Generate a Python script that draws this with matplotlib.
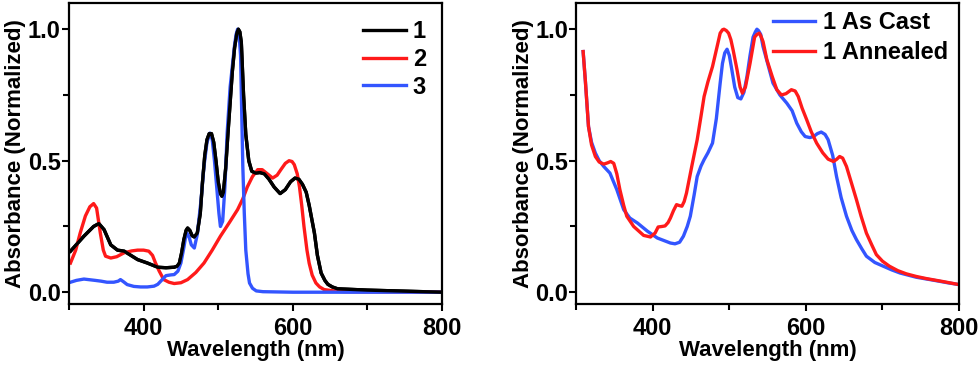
import numpy as np
import matplotlib.pyplot as plt
from matplotlib.ticker import MultipleLocator

plt.rcParams['font.family'] = ['Liberation Sans', 'DejaVu Sans']
plt.rcParams['font.weight'] = 'bold'

# left panel: compounds 1, 2, 3 (wavelength nm, normalized absorbance)
wl_1 = [302, 320, 333, 340, 347, 356, 365, 374, 392, 405, 419, 430, 441, 445,
        448, 451, 454, 457, 459, 462, 465, 468, 472, 476, 479, 482, 485, 488,
        491, 494, 497, 500, 503, 505, 507, 510, 513, 516, 519, 522, 525, 527,
        529, 531, 534, 537, 541, 545, 550, 556, 562, 568, 575, 583, 590, 597,
        603, 608, 613, 618, 622, 626, 629, 633, 638, 643, 647, 653, 660, 700,
        750, 800]
abs_1 = [0.156, 0.213, 0.25, 0.261, 0.238, 0.18, 0.16, 0.156, 0.124, 0.111,
         0.095, 0.093, 0.095, 0.099, 0.111, 0.15, 0.20, 0.235, 0.244, 0.235,
         0.215, 0.21, 0.225, 0.30, 0.42, 0.52, 0.58, 0.603, 0.603, 0.57, 0.50,
         0.42, 0.375, 0.365, 0.38, 0.47, 0.60, 0.72, 0.84, 0.93, 0.985, 1.0,
         0.99, 0.95, 0.75, 0.60, 0.50, 0.46, 0.453, 0.455, 0.45, 0.43, 0.40,
         0.375, 0.39, 0.42, 0.434, 0.43, 0.41, 0.38, 0.33, 0.27, 0.225, 0.14,
         0.073, 0.045, 0.03, 0.02, 0.013, 0.008, 0.004, 0.0]

wl_2 = [302, 309, 315, 322, 328, 333, 337, 342, 346, 349, 356, 364, 374, 384,
        392, 400, 407, 412, 416, 421, 427, 434, 441, 450, 459, 470, 481, 492,
        503, 515, 526, 533, 539, 546, 553, 559, 566, 573, 579, 584, 590, 595,
        599, 602, 606, 609, 612, 615, 619, 622, 626, 631, 636, 642, 655, 669,
        720, 800]
abs_2 = [0.111, 0.16, 0.225, 0.29, 0.325, 0.337, 0.32, 0.225, 0.16, 0.137,
         0.13, 0.135, 0.15, 0.157, 0.16, 0.16, 0.156, 0.14, 0.111, 0.08, 0.048,
         0.038, 0.033, 0.036, 0.048, 0.075, 0.111, 0.16, 0.213, 0.265, 0.314,
         0.355, 0.40, 0.44, 0.466, 0.466, 0.45, 0.434, 0.445, 0.466, 0.49,
         0.50, 0.497, 0.485, 0.45, 0.40, 0.33, 0.25, 0.16, 0.11, 0.065, 0.035,
         0.02, 0.01, 0.005, 0.002, 0.001, 0.0]

wl_3 = [302, 310, 320, 335, 343, 351, 360, 366, 369, 373, 378, 387, 396, 405,
        414, 419, 423, 430, 437, 441, 446, 450, 454, 456, 458, 461, 464, 468,
        472, 477, 481, 485, 489, 492, 495, 498, 501, 503, 506, 509, 512, 516,
        519, 522, 524, 526, 528, 530, 533, 535, 537, 540, 542, 546, 551, 560,
        600, 700, 800]
abs_3 = [0.038, 0.045, 0.05, 0.045, 0.042, 0.038, 0.038, 0.042, 0.048, 0.04,
         0.029, 0.022, 0.02, 0.02, 0.023, 0.03, 0.042, 0.063, 0.066, 0.067,
         0.08, 0.111, 0.17, 0.205, 0.225, 0.21, 0.18, 0.168, 0.22, 0.35, 0.48,
         0.57, 0.605, 0.58, 0.50, 0.40, 0.30, 0.25, 0.27, 0.40, 0.605, 0.78,
         0.86, 0.94, 0.98, 1.0, 0.98, 0.90, 0.48, 0.30, 0.16, 0.07, 0.035,
         0.015, 0.005, 0.002, 0.0, 0.0, 0.0]

# right panel: film of 1, as cast vs annealed
wl_cast = [309, 312, 316, 320, 325, 330, 336, 344, 353, 362, 370, 380, 393, 406,
           423, 429, 435, 440, 445, 449, 454, 458, 463, 467, 472, 478, 483, 488,
           491, 494, 497, 500, 503, 507, 511, 515, 519, 523, 527, 531, 534, 536,
           538, 541, 544, 550, 557, 566, 575, 582, 588, 594, 599, 605, 610, 615,
           620, 625, 629, 635, 640, 646, 653, 660, 666, 673, 679, 690, 701, 712,
           723, 744, 766, 785, 800]
abs_cast = [0.915, 0.80, 0.63, 0.57, 0.529, 0.50, 0.478, 0.453, 0.39, 0.314,
            0.282, 0.263, 0.232, 0.206, 0.187, 0.184, 0.19, 0.213, 0.25, 0.289,
            0.37, 0.44, 0.48, 0.504, 0.53, 0.567, 0.66, 0.795, 0.87, 0.91, 0.924,
            0.90, 0.85, 0.78, 0.74, 0.735, 0.76, 0.82, 0.90, 0.97, 0.99, 1.0,
            0.995, 0.98, 0.934, 0.87, 0.795, 0.75, 0.719, 0.69, 0.643, 0.61,
            0.592, 0.588, 0.592, 0.603, 0.609, 0.60, 0.58, 0.52, 0.44, 0.36,
            0.289, 0.235, 0.2, 0.165, 0.137, 0.113, 0.099, 0.085, 0.073, 0.057,
            0.046, 0.036, 0.029]

wl_ann = [309, 312, 316, 320, 325, 330, 336, 341, 345, 349, 353, 357, 362, 366,
          375, 388, 397, 403, 407, 412, 416, 420, 423, 427, 431, 434, 438, 441,
          444, 451, 458, 463, 467, 472, 478, 484, 488, 491, 493, 496, 499, 502,
          505, 510, 514, 517, 521, 527, 533, 536, 539, 541, 544, 549, 556, 562,
          568, 574, 581, 586, 590, 595, 601, 607, 614, 622, 629, 636, 640, 644,
          648, 653, 659, 666, 672, 679, 686, 692, 700, 709, 720, 731, 744, 757,
          780, 800]
abs_ann = [0.915, 0.80, 0.63, 0.56, 0.516, 0.495, 0.487, 0.492, 0.497, 0.49,
           0.45, 0.39, 0.33, 0.289, 0.25, 0.216, 0.21, 0.225, 0.248, 0.25,
           0.252, 0.265, 0.282, 0.31, 0.333, 0.33, 0.327, 0.345, 0.377, 0.48,
           0.58, 0.67, 0.744, 0.80, 0.858, 0.934, 0.985, 0.998, 1.0, 0.995,
           0.985, 0.96, 0.92, 0.846, 0.78, 0.757, 0.78, 0.87, 0.97, 0.98, 0.985,
           0.975, 0.953, 0.884, 0.82, 0.77, 0.75, 0.755, 0.77, 0.765, 0.744,
           0.70, 0.656, 0.61, 0.567, 0.53, 0.506, 0.497, 0.505, 0.516, 0.51,
           0.478, 0.42, 0.352, 0.29, 0.225, 0.18, 0.143, 0.118, 0.099, 0.082,
           0.07, 0.06, 0.052, 0.04, 0.029]

BLACK = '#000000'
RED = '#ff1a1a'
BLUE = '#3355ff'
LW = 2.4

fig = plt.figure(figsize=(9.8, 3.65), dpi=100)
ax0 = fig.add_axes([0.0704, 0.167, 0.3806, 0.825])
ax1 = fig.add_axes([0.588, 0.167, 0.3906, 0.825])

ax0.plot(wl_1, abs_1, color=BLACK, lw=LW, label='1')
ax0.plot(wl_2, abs_2, color=RED, lw=LW, label='2')
ax0.plot(wl_3, abs_3, color=BLUE, lw=LW, label='3')
ax0.plot(wl_1, abs_1, color=BLACK, lw=LW)  # black back on top

ax1.plot(wl_cast, abs_cast, color=BLUE, lw=LW, label='1 As Cast')
ax1.plot(wl_ann, abs_ann, color=RED, lw=LW, label='1 Annealed')

for ax in (ax0, ax1):
    ax.set_xlim(300, 800)
    ax.set_ylim(-0.045, 1.1)
    ax.xaxis.set_major_locator(MultipleLocator(200))
    ax.xaxis.set_minor_locator(MultipleLocator(100))
    ax.yaxis.set_major_locator(MultipleLocator(0.5))
    ax.yaxis.set_minor_locator(MultipleLocator(0.25))
    ax.tick_params(which='both', direction='out', width=1.5, top=False, right=False)
    ax.tick_params(which='major', length=5, labelsize=17)
    ax.tick_params(axis='x', which='major', pad=4)
    ax.tick_params(axis='y', which='major', pad=1)
    ax.tick_params(which='minor', length=4)
    for s in ax.spines.values():
        s.set_linewidth(1.6)
    ax.set_xlabel('Wavelength (nm)', fontsize=16, fontweight='bold', labelpad=0)
    ax.set_ylabel('Absorbance (Normalized)', fontsize=16, fontweight='bold', labelpad=1)
    for lbl in ax.get_xticklabels() + ax.get_yticklabels():
        lbl.set_fontweight('bold')
    ax.xaxis.set_major_formatter(lambda v, p: f'{v:.0f}')
    ax.yaxis.set_major_formatter(lambda v, p: f'{v:.1f}')

ax0.legend(loc='upper right', frameon=False, fontsize=17, handlelength=1.8,
           handletextpad=0.3, labelspacing=0.2, borderaxespad=0.2,
           bbox_to_anchor=(0.995, 0.99))
ax1.legend(loc='upper right', frameon=False, fontsize=17, handlelength=1.8,
           handletextpad=0.3, labelspacing=0.3, borderaxespad=0.0,
           bbox_to_anchor=(0.995, 1.005))

fig.savefig('out.png', dpi=100)
